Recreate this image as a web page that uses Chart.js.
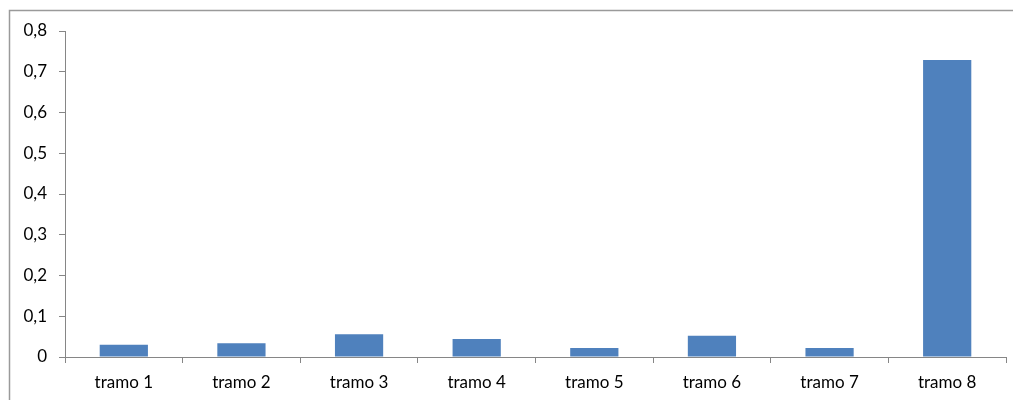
<!DOCTYPE html>
<html>
<head>
<meta charset="utf-8">
<script src="https://cdn.jsdelivr.net/npm/chart.js@4"></script>
<style>
  html, body { margin: 0; padding: 0; background: #fff; }
  #wrap { width: 1013px; height: 400px; }
</style>
</head>
<body>
<div id="wrap"><canvas id="c" width="1013" height="400"></canvas></div>
<script>
const categories = ['tramo 1', 'tramo 2', 'tramo 3', 'tramo 4', 'tramo 5', 'tramo 6', 'tramo 7', 'tramo 8'];
const values = [0.030, 0.034, 0.056, 0.044, 0.022, 0.052, 0.022, 0.729];
const yTicks = [0, 0.1, 0.2, 0.3, 0.4, 0.5, 0.6, 0.7, 0.8];

// gray frame of the chart object (top and left edges visible)
const framePlugin = {
  id: 'frame',
  beforeDraw(chart) {
    const ctx = chart.ctx;
    ctx.save();
    ctx.strokeStyle = '#9a9a9a';
    ctx.lineWidth = 1.5;
    ctx.strokeRect(9.5, 10.5, 1100, 500);
    ctx.restore();
  }
};

const axisFont = { family: 'Lato, "Open Sans", sans-serif', size: 17 };

new Chart(document.getElementById('c'), {
  type: 'bar',
  data: {
    labels: categories,
    datasets: [{
      data: values,
      backgroundColor: '#4f81bd',
      borderWidth: 0,
      barPercentage: 0.41,
      categoryPercentage: 1.0
    }]
  },
  options: {
    responsive: false,
    animation: false,
    layout: { padding: { left: 10, top: 31, right: 7, bottom: 0 } },
    plugins: { legend: { display: false }, tooltip: { enabled: false } },
    scales: {
      x: {
        grid: { display: true, drawOnChartArea: false, offset: true, tickLength: 6, color: '#868686' },
        border: { color: '#868686', width: 1 },
        ticks: { color: '#000', font: axisFont, padding: 9, maxRotation: 0 },
        afterFit(scale) { scale.height = 43; }
      },
      y: {
        min: 0,
        max: 0.8,
        afterBuildTicks(scale) { scale.ticks = yTicks.map(v => ({ value: v })); },
        grid: { display: true, drawOnChartArea: false, tickLength: 6, color: '#868686' },
        border: { color: '#868686', width: 1 },
        ticks: {
          color: '#000',
          font: axisFont,
          padding: 12,
          callback: v => v === 0 ? '0' : v.toFixed(1).replace('.', ',')
        },
        afterFit(scale) { scale.width = 55; }
      }
    }
  },
  plugins: [framePlugin]
});
</script>
</body>
</html>
